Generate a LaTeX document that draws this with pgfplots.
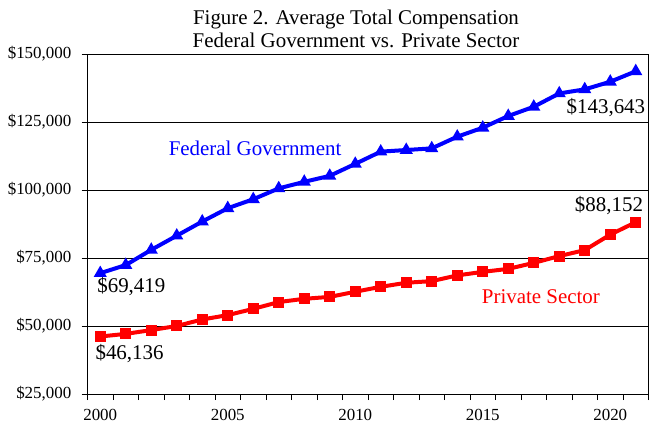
\documentclass[border=0pt]{standalone}
\usepackage{pgfplots}
\pgfplotsset{compat=1.18}
\usepackage{fontspec}
\setmainfont{Liberation Serif}
\definecolor{fedblue}{RGB}{0,0,255}
\definecolor{privred}{RGB}{255,0,0}
\newcommand\tfs{\fontsize{17}{20}\selectfont}
\begin{document}
\begin{tikzpicture}
\begin{axis}[
  at={(0,0)}, anchor=south west,
  scale only axis, width=561bp, height=340bp,
  xmin=1999.5, xmax=2021.5,
  ymin=25000, ymax=150000,
  ytick={25000,50000,75000,100000,125000,150000},
  scaled ticks=false,
  yticklabel={\$\pgfmathprintnumber[assume math mode=true, 1000 sep={,}, fixed, precision=0]{\tick}},
  ymajorgrids, grid style={black, line width=0.8bp},
  axis line style={black, line width=0.8bp},
  tick align=outside,
  xtick pos=bottom, ytick pos=left,
  major tick length=6bp,
  tick style={black, line width=0.8bp},
  xtick={1999.5,2000.5,...,2021.5},
  xticklabels={},
  extra x ticks={2000,2005,2010,2015,2020},
  extra x tick labels={2000,2005,2010,2015,2020},
  extra x tick style={major tick length=0pt, grid=none},
  tick label style={font=\tfs, text=black},
  yticklabel style={anchor=east, inner sep=0pt, xshift=-10bp},
  xticklabel style={anchor=north, inner sep=0pt, yshift=-15bp},
  clip=false,
]
\addplot[color=fedblue, line width=4bp, mark=triangle*, mark size=3.6bp, mark options={solid, fill=fedblue}] coordinates {
(2000,69419) (2001,72400) (2002,78000) (2003,83200) (2004,88400) (2005,93300)
(2006,96600) (2007,100600) (2008,103000) (2009,105200) (2010,109600) (2011,114100)
(2012,114700) (2013,115300) (2014,119600) (2015,122900) (2016,127200) (2017,130600)
(2018,135500) (2019,137000) (2020,139800) (2021,143643)
};
\addplot[color=privred, line width=4bp, mark=square*, mark size=3.5bp, mark options={solid, fill=privred}] coordinates {
(2000,46136) (2001,47100) (2002,48500) (2003,50000) (2004,52400) (2005,54000)
(2006,56300) (2007,58800) (2008,60000) (2009,60700) (2010,62600) (2011,64400)
(2012,65900) (2013,66500) (2014,68600) (2015,69900) (2016,71000) (2017,73200)
(2018,75700) (2019,77900) (2020,83600) (2021,88152)
};
\node[font=\fontsize{21}{24}\selectfont, text=black, inner sep=0pt] at (axis cs:2019.83,130147) {\$143,643};
\node[font=\fontsize{21}{24}\selectfont, text=black, inner sep=0pt] at (axis cs:2019.95,94118) {\$88,152};
\node[font=\fontsize{21}{24}\selectfont, text=black, inner sep=0pt] at (axis cs:2001.22,64338) {\$69,419};
\node[font=\fontsize{21}{24}\selectfont, text=black, inner sep=0pt] at (axis cs:2001.15,39706) {\$46,136};
\node[font=\fontsize{21}{24}\selectfont, text=fedblue, inner sep=0pt] at (axis cs:2006.07,115441) {Federal Government};
\node[font=\fontsize{21}{24}\selectfont, text=privred, inner sep=0pt] at (axis cs:2017.28,60662) {Private Sector};
\end{axis}
\node[font=\fontsize{21}{24}\selectfont, anchor=base, inner sep=0pt] at (268.5bp,369.5bp) {Figure 2. Average Total Compensation};
\node[font=\fontsize{21}{24}\selectfont, anchor=base, inner sep=0pt] at (268.5bp,346bp) {Federal Government vs. Private Sector};
\pgfresetboundingbox
\path (-87.5bp,-37bp) rectangle (572.5bp,394bp);
\end{tikzpicture}
\end{document}
